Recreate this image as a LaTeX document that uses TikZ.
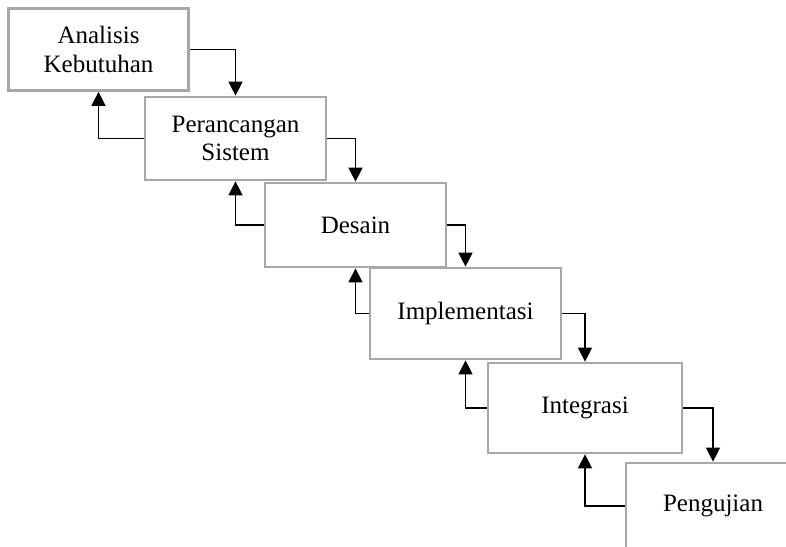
\documentclass[tikz,border=0pt]{standalone}
\usepackage{fontspec}
\setmainfont{Liberation Serif}
\usetikzlibrary{arrows.meta}
\definecolor{boxgray}{RGB}{168,168,168}
\tikzset{
  stage/.style={draw=boxgray, line width=2.7pt, fill=white, rectangle, align=center,
    inner sep=0pt, font=\fontsize{25}{28.5}\selectfont},
  flow/.style={draw=black, line width=1.2pt, -{Triangle[length=14pt,width=14pt]}}
}
\begin{document}
\begin{tikzpicture}[x=1pt,y=-1pt]
\path[use as bounding box, clip] (0,0) rectangle (786,546);
\fill[white] (0,0) rectangle (786,546);
\node[stage, minimum width=180pt, minimum height=82pt] (a) at (98.5,49.5) {Analisis\\Kebutuhan};
\node[stage, minimum width=181pt, minimum height=83pt] (b) at (235.5,138.5) {Perancangan\\Sistem};
\node[stage, minimum width=181pt, minimum height=84pt] (c) at (355.5,225) {Desain};
\node[stage, minimum width=191pt, minimum height=91pt] (d) at (465.5,313.5) {Implementasi};
\node[stage, minimum width=194pt, minimum height=90pt] (e) at (585,408) {Integrasi};
\node[stage, minimum width=174pt, minimum height=86pt] (f) at (713,506) {Pengujian};
\foreach \p/\q in {a/b,b/c,c/d,d/e,e/f}{
  \draw[flow] (\p.east) -| (\q.north);
  \draw[flow] (\q.west) -| (\p.south);
}
\end{tikzpicture}
\end{document}
